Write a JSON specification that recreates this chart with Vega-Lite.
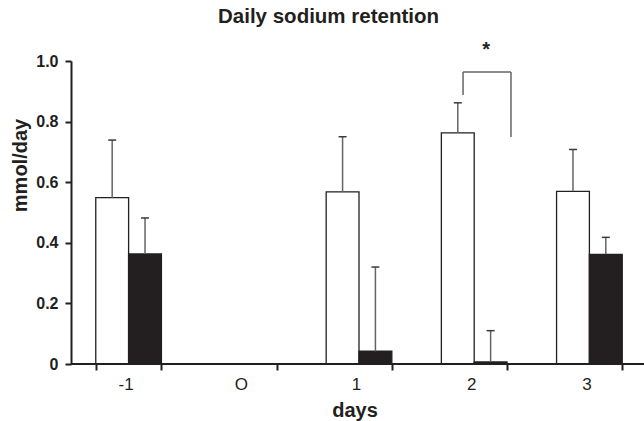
{
  "$schema": "https://vega.github.io/schema/vega-lite/v6.json",
  "width": 573,
  "height": 303,
  "autosize": {"type": "none"},
  "padding": {"left": 71, "top": 61, "right": 0, "bottom": 57},
  "background": "white",
  "config": {
    "view": {"stroke": null},
    "font": "Liberation Sans",
    "axis": {"domainColor": "#231f20", "tickColor": "#231f20", "labelColor": "#231f20", "titleColor": "#231f20", "grid": false}
  },
  "title": {
    "text": "Daily sodium retention",
    "fontSize": 20.5,
    "fontWeight": "bold",
    "font": "Liberation Sans",
    "color": "#231f20",
    "anchor": "middle",
    "frame": "group",
    "dx": -29,
    "offset": 13
  },
  "datasets": {
    "bars": [
      {"day": "-1", "group": "white", "mean": 0.549, "upper": 0.739},
      {"day": "-1", "group": "black", "mean": 0.363, "upper": 0.482},
      {"day": "1", "group": "white", "mean": 0.568, "upper": 0.75},
      {"day": "1", "group": "black", "mean": 0.042, "upper": 0.32},
      {"day": "2", "group": "white", "mean": 0.763, "upper": 0.862},
      {"day": "2", "group": "black", "mean": 0.007, "upper": 0.11},
      {"day": "3", "group": "white", "mean": 0.57, "upper": 0.708},
      {"day": "3", "group": "black", "mean": 0.362, "upper": 0.418}
    ],
    "bracketL": [{"day": "2", "y": 0.888, "y2": 0.964}],
    "bracketR": [{"day": "2", "y": 0.749, "y2": 0.964}],
    "bracketTop": [{"day": "2", "y": 0.964}],
    "star": [{"day": "2", "label": "*", "y": 1.015}],
    "base": [{"y": 0}]
  },
  "layer": [
    {
      "data": {"name": "bars"},
      "mark": {"type": "bar", "stroke": "#231f20", "strokeWidth": 1.3},
      "encoding": {
        "x": {
          "field": "day",
          "type": "nominal",
          "sort": null,
          "scale": {"domain": ["-1", "O", "1", "2", "3"], "range": [0, 576], "paddingInner": 0.43, "paddingOuter": 0.215},
          "axis": {
            "title": "days",
            "titleFontSize": 20,
            "titleFontWeight": "bold",
            "titleX": 283.5,
            "titleY": 52.7,
            "titleBaseline": "alphabetic",
            "labelFontSize": 17,
            "labelFontWeight": "normal",
            "labelAngle": 0,
            "labelPadding": 6,
            "labelAlign": "center",
            "labelOffset": -3,
            "tickSize": 6,
            "tickWidth": 2,
            "tickBand": "extent",
            "domain": false
          }
        },
        "xOffset": {"field": "group", "type": "nominal", "scale": {"domain": ["white", "black"]}},
        "y": {
          "field": "mean",
          "type": "quantitative",
          "scale": {"domain": [0, 1], "nice": false},
          "axis": {
            "title": "mmol/day",
            "values": [0, 0.2, 0.4, 0.6, 0.8, 1],
            "labelExpr": "datum.value == 0 ? '0' : format(datum.value, '.1f')",
            "labelFontSize": 16,
            "labelFontWeight": "bold",
            "labelPadding": 7,
            "tickSize": 6,
            "tickWidth": 2,
            "domainWidth": 2,
            "titleFontSize": 20,
            "titleFontWeight": "bold",
            "titleAngle": -90,
            "titleX": -45,
            "titleY": 104,
            "titleAlign": "center",
            "titleBaseline": "alphabetic"
          }
        },
        "fill": {"field": "group", "type": "nominal", "scale": {"domain": ["white", "black"], "range": ["#ffffff", "#231f20"]}, "legend": null}
      }
    },
    {
      "data": {"name": "bars"},
      "mark": {"type": "rule", "stroke": "#636466", "strokeWidth": 1.5},
      "encoding": {
        "x": {"field": "day", "type": "nominal", "sort": null},
        "xOffset": {"field": "group", "type": "nominal"},
        "y": {"field": "mean", "type": "quantitative"},
        "y2": {"field": "upper"}
      }
    },
    {
      "data": {"name": "bars"},
      "mark": {"type": "tick", "orient": "horizontal", "size": 8, "thickness": 1.5, "color": "#3a3a3c", "opacity": 1},
      "encoding": {
        "x": {"field": "day", "type": "nominal", "sort": null},
        "xOffset": {"field": "group", "type": "nominal"},
        "y": {"field": "upper", "type": "quantitative"}
      }
    },
    {
      "data": {"name": "bracketL"},
      "mark": {"type": "rule", "stroke": "#636466", "strokeWidth": 1.5},
      "encoding": {
        "x": {"field": "day", "type": "nominal", "bandPosition": 0.33},
        "y": {"field": "y", "type": "quantitative"},
        "y2": {"field": "y2"}
      }
    },
    {
      "data": {"name": "bracketR"},
      "mark": {"type": "rule", "stroke": "#636466", "strokeWidth": 1.5},
      "encoding": {
        "x": {"field": "day", "type": "nominal", "bandPosition": 1.06},
        "y": {"field": "y", "type": "quantitative"},
        "y2": {"field": "y2"}
      }
    },
    {
      "data": {"name": "bracketTop"},
      "mark": {"type": "rule", "stroke": "#636466", "strokeWidth": 1.5},
      "encoding": {
        "x": {"field": "day", "type": "nominal", "bandPosition": 0.33},
        "x2": {"field": "day", "bandPosition": 1.06},
        "y": {"field": "y", "type": "quantitative"}
      }
    },
    {
      "data": {"name": "star"},
      "mark": {"type": "text", "fontSize": 20, "fontWeight": "bold", "baseline": "alphabetic", "align": "center", "color": "#231f20"},
      "encoding": {
        "x": {"field": "day", "type": "nominal", "bandPosition": 0.68},
        "y": {"field": "y", "type": "quantitative"},
        "text": {"field": "label"}
      }
    },
    {
      "data": {"name": "base"},
      "mark": {"type": "rule", "stroke": "#231f20", "strokeWidth": 2},
      "encoding": {
        "y": {"field": "y", "type": "quantitative"}
      }
    }
  ]
}
